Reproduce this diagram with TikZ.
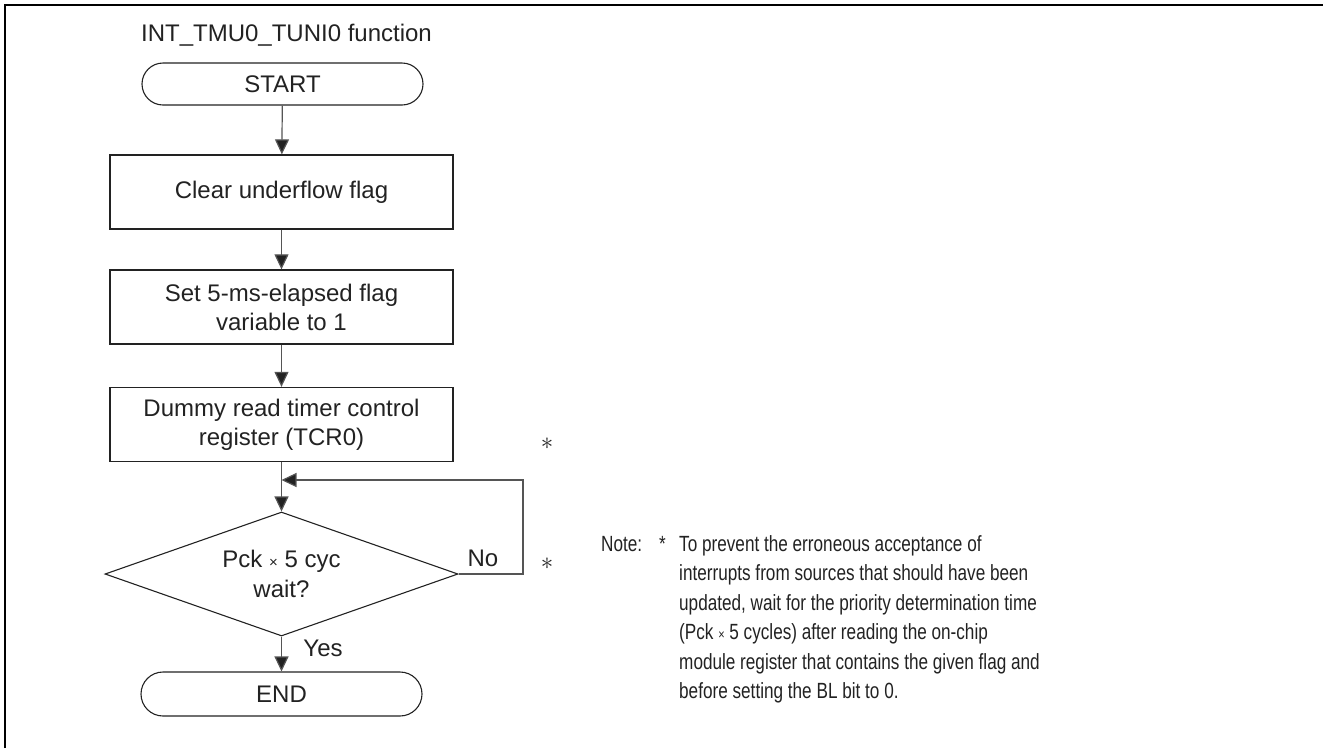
\documentclass[tikz,border=0pt]{standalone}
\usepackage{fontspec}
\setmainfont{Liberation Sans}
\newfontfamily\narrowfont[FakeStretch=0.78]{Liberation Sans}
\usetikzlibrary{shapes.geometric,arrows.meta}
\definecolor{ink}{HTML}{222222}
\definecolor{conn}{HTML}{555555}
\tikzset{
  flowtext/.style={font=\fontsize{24}{29}\selectfont, text=ink, align=center, inner sep=0pt},
  procbox/.style={flowtext, draw=ink, line width=1.3pt, minimum width=343pt, minimum height=74pt},
  termbox/.style={flowtext, draw=ink, line width=1.1pt, rounded corners=21pt, minimum width=281pt, minimum height=42pt},
  decbox/.style={flowtext, draw=ink, line width=1.1pt, diamond, shape aspect=2.85, minimum width=353pt, minimum height=124pt},
  conline/.style={draw=conn, line width=1.2pt},
  conarrow/.style={conline, -{Triangle[length=15pt,width=14pt,fill=ink]}},
  lbl/.style={font=\fontsize{24}{29}\selectfont, text=ink, inner sep=0pt},
  star/.style={font=\fontsize{24}{29}\selectfont, text=ink, inner sep=0pt},
  notetext/.style={font=\narrowfont\fontsize{22}{29.5}\selectfont, text=ink, inner sep=0pt}
}
\begin{document}
\begin{tikzpicture}[x=1pt,y=-1pt]
\useasboundingbox (0,0) rectangle (1323,748);
\draw[line width=2.2pt, black] (5,748) -- (5,5) -- (1323,5);

\node[lbl] (title) at (286.5,35) {INT\_TMU0\_TUNI0 function};
\node[termbox] (start) at (282.5,84) {START};
\node[procbox] (clr) at (281.5,192) {Clear underflow flag};
\node[procbox] (setf) at (281.5,307) {Set 5-ms-elapsed flag\\variable to 1};
\node[procbox] (dummy) at (281.5,424.5) {Dummy read timer control\\register (TCR0)};
\node[decbox] (wait) at (281.5,574) {Pck {\fontsize{15}{15}\selectfont ×} 5 cyc\\[1pt]wait?};
\node[termbox, minimum height=44pt, rounded corners=22pt] (end) at (281.5,694) {END};

\coordinate (join) at (281.5,480);
\coordinate (loopr) at (523,480);

\draw[conarrow] (start) -- (clr);
\draw[conarrow] (clr) -- (setf);
\draw[conarrow] (setf) -- (dummy);
\draw[conarrow] (dummy) -- (wait);
\draw[conarrow] (wait.east) -- (wait.east -| loopr) -- (loopr) -- (join);
\draw[conarrow] (wait) -- (end);

\node[lbl] (no) at (483,558) {No};
\node[lbl] (yes) at (323,648) {Yes};
\node[star] (st1) at (547,444) {$\ast$};
\node[star] (st2) at (547,564) {$\ast$};

\node[notetext, anchor=base west] (note) at (601,551) {Note:};
\node[notetext, anchor=base west] (nstar) at (659,551) {*};
\node[notetext, anchor=north west, align=left] (body) at (679,535) {To prevent the erroneous acceptance of\\interrupts from sources that should have been\\updated, wait for the priority determination time\\(Pck {\fontsize{14}{14}\selectfont ×} 5 cycles) after reading the on-chip\\module register that contains the given flag and\\before setting the BL bit to 0.};
\end{tikzpicture}
\end{document}
